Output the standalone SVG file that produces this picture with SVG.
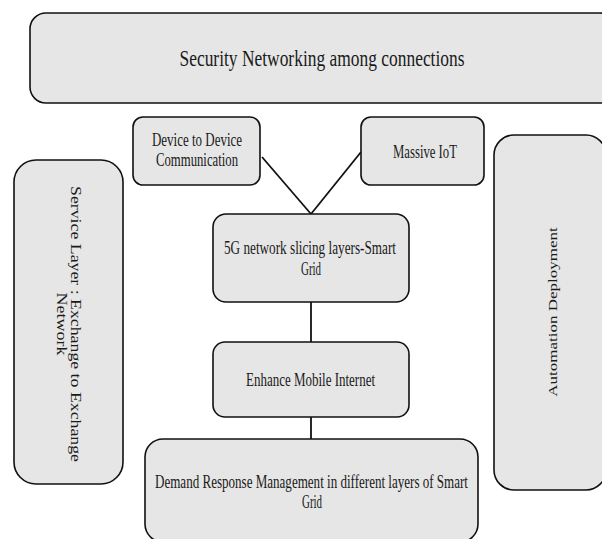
<svg xmlns="http://www.w3.org/2000/svg" width="602" height="539" viewBox="0 0 602 539">
<style>
.box{fill:#e6e6e6;stroke:#111;stroke-width:1.6}
.t{font-family:"Liberation Serif","Times New Roman",serif;fill:#1a1a1a;text-anchor:middle}
.n{font-size:18px}
.c{stroke:#111;stroke-width:1.8;fill:none}
</style>
<rect width="602" height="539" fill="#fff"/>
<g id="connectors">
<line class="c" x1="262" y1="157" x2="311" y2="214"/>
<line class="c" x1="361" y1="152" x2="311" y2="214"/>
<line class="c" x1="311" y1="302" x2="311" y2="342"/>
<line class="c" x1="311" y1="417" x2="311" y2="439"/>
</g>
<g id="security">
<rect class="box" x="30" y="13" width="586" height="90" rx="16"/>
<text class="t" x="322" y="66" font-size="24" textLength="285" lengthAdjust="spacingAndGlyphs">Security Networking among connections</text>
</g>
<g id="d2d">
<rect class="box" x="133" y="117" width="127" height="68" rx="10"/>
<text class="t n" x="197" y="146" textLength="90" lengthAdjust="spacingAndGlyphs">Device to Device</text>
<text class="t n" x="197" y="166" textLength="82" lengthAdjust="spacingAndGlyphs">Communication</text>
</g>
<g id="iot">
<rect class="box" x="361" y="117" width="123" height="68" rx="10"/>
<text class="t n" x="425" y="158" textLength="64" lengthAdjust="spacingAndGlyphs">Massive IoT</text>
</g>
<g id="slicing">
<rect class="box" x="213" y="214" width="196" height="88" rx="13"/>
<text class="t n" x="310" y="254" textLength="172" lengthAdjust="spacingAndGlyphs">5G network slicing layers-Smart</text>
<text class="t n" x="311" y="275" textLength="20" lengthAdjust="spacingAndGlyphs">Grid</text>
</g>
<g id="embb">
<rect class="box" x="213" y="342" width="196" height="75" rx="12"/>
<text class="t n" x="310.5" y="386" textLength="129" lengthAdjust="spacingAndGlyphs">Enhance Mobile Internet</text>
</g>
<g id="demand">
<rect class="box" x="145" y="439" width="333" height="103" rx="18"/>
<text class="t n" x="311.5" y="488" textLength="313" lengthAdjust="spacingAndGlyphs">Demand Response Management in different layers of Smart</text>
<text class="t n" x="312" y="508" textLength="20" lengthAdjust="spacingAndGlyphs">Grid</text>
</g>
<g id="service">
<rect class="box" x="14" y="160" width="109" height="324" rx="22"/>
<text class="t n" transform="translate(71,324) scale(0.8,1) rotate(90)" textLength="276" lengthAdjust="spacingAndGlyphs">Service Layer : Exchange to Exchange</text>
<text class="t n" transform="translate(57,324) scale(0.8,1) rotate(90)">Network</text>
</g>
<g id="automation">
<rect class="box" x="494" y="135" width="112" height="355" rx="20"/>
<text class="t" font-size="17" transform="translate(557,312) scale(0.72,1) rotate(-90)">Automation Deployment</text>
</g>
</svg>
